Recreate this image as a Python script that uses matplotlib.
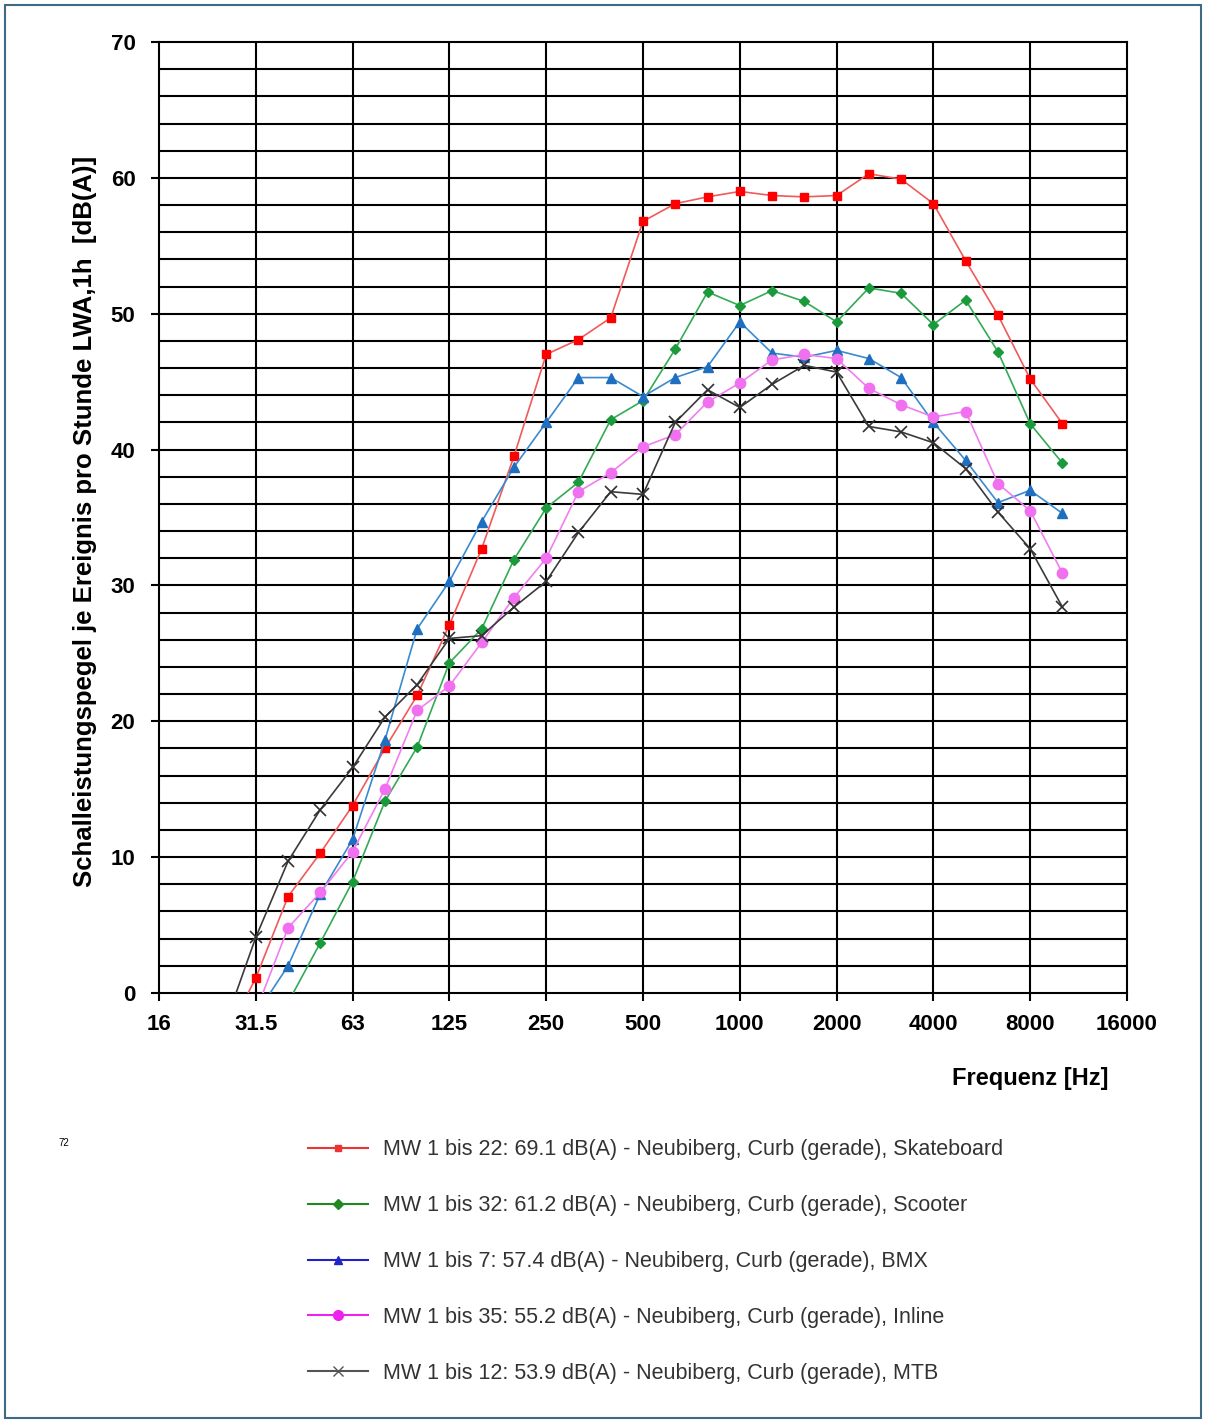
import numpy as np
import matplotlib
matplotlib.use("Agg")
from matplotlib import pyplot as plt
from matplotlib.lines import Line2D
from matplotlib.patches import Rectangle

plt.rcParams['font.family'] = ['Liberation Sans Narrow', 'Liberation Sans', 'DejaVu Sans']

# Terzband-Mittenfrequenzen [Hz] (nominal)
freq = [25, 31.5, 40, 50, 63, 80, 100, 125, 160, 200, 250, 315, 400, 500, 630,
        800, 1000, 1250, 1600, 2000, 2500, 3150, 4000, 5000, 6300, 8000, 10000]

skateboard = [-3.5, 1.1, 7.1, 10.3, 13.8, 18.0, 21.9, 27.1, 32.7, 39.5, 47.0, 48.1, 49.7, 56.8, 58.1,
              58.6, 59.0, 58.7, 58.6, 58.7, 60.3, 59.9, 58.1, 53.9, 49.9, 45.2, 41.9]
scooter = [-8.0, -4.0, -0.7, 3.7, 8.2, 14.1, 18.1, 24.3, 26.8, 31.9, 35.7, 37.6, 42.2, 43.6, 47.4,
           51.6, 50.6, 51.7, 50.9, 49.4, 51.9, 51.5, 49.2, 51.0, 47.2, 41.9, 39.0]
bmx = [-6.0, -1.6, 2.0, 7.3, 11.3, 18.6, 26.8, 30.3, 34.7, 38.7, 42.0, 45.3, 45.3, 43.9, 45.3,
       46.1, 49.4, 47.1, 46.8, 47.3, 46.7, 45.3, 42.0, 39.2, 36.1, 37.0, 35.3]
inline = [-5.0, -1.35, 4.8, 7.4, 10.4, 15.0, 20.8, 22.6, 25.8, 29.1, 32.0, 36.9, 38.3, 40.2, 41.1,
          43.5, 44.9, 46.6, 47.0, 46.7, 44.5, 43.3, 42.4, 42.8, 37.5, 35.5, 30.9]
mtb = [-2.6, 4.1, 9.7, 13.5, 16.6, 20.3, 22.7, 26.1, 26.3, 28.4, 30.3, 33.9, 36.9, 36.7, 42.0,
       44.4, 43.1, 44.8, 46.2, 45.7, 41.7, 41.3, 40.5, 38.6, 35.4, 32.7, 28.4]

labels = ["MW 1 bis 22: 69.1 dB(A) - Neubiberg, Curb (gerade), Skateboard",
          "MW 1 bis 32: 61.2 dB(A) - Neubiberg, Curb (gerade), Scooter",
          "MW 1 bis 7: 57.4 dB(A) - Neubiberg, Curb (gerade), BMX",
          "MW 1 bis 35: 55.2 dB(A) - Neubiberg, Curb (gerade), Inline",
          "MW 1 bis 12: 53.9 dB(A) - Neubiberg, Curb (gerade), MTB"]

oct_labels = ["16", "31.5", "63", "125", "250", "500", "1000", "2000", "4000", "8000", "16000"]

# nominal -> exakte Terz-/Oktavposition (1000 Hz als Bezug)
i1000 = freq.index(1000)
xpos = [1000 * 2 ** ((i - i1000) / 3) for i in range(len(freq))]
oct_pos = [1000 * 2 ** (k - 6) for k in range(len(oct_labels))]

fig = plt.figure(figsize=(12.06, 14.2), dpi=100)
ax = fig.add_axes([159/1206, 1 - 993/1420, (1127-159)/1206, (993-42)/1420])

# Rahmen um das Bild
fig.patches.append(Rectangle((5/1206, 2/1420), 1196/1206, 1413/1420, transform=fig.transFigure,
                             fill=False, edgecolor="#3d6a85", linewidth=1.5))

ax.set_xscale("log", base=2)
ax.set_xlim(oct_pos[0], oct_pos[-1])
ax.set_ylim(0, 70)

# Raster
for y in range(2, 70, 2):
    ax.axhline(y, color="black", lw=1.5, zorder=1)
for x in oct_pos[1:-1]:
    ax.axvline(x, color="black", lw=1.5, zorder=1)
for s in ax.spines.values():
    s.set_linewidth(1.5)

ax.set_xticks(oct_pos)
ax.set_xticklabels(oct_labels, fontsize=16, fontweight="bold")
ax.xaxis.set_minor_locator(matplotlib.ticker.NullLocator())
ax.set_yticks(range(0, 71, 10))
ax.set_yticklabels([str(v) for v in range(0, 71, 10)], fontsize=16, fontweight="bold")
ax.tick_params(axis="both", direction="out", length=6, width=1.5)
ax.tick_params(axis="y", pad=11)
ax.tick_params(axis="x", pad=9)

series = [
    (skateboard, "#f05a5a", "#ff0000", "s", 6),
    (scooter, "#33aa55", "#1a9a3a", "D", 5.5),
    (bmx, "#3a8ad0", "#1f6fc0", "^", 7.5),
    (inline, "#f07ef0", "#f070f0", "o", 7.5),
    (mtb, "#3a3a3a", "#3a3a3a", "x", 9),
]
for vals, lc, mc, m, ms in series:
    ax.plot(xpos, vals, color=lc, lw=1.2, marker=m, markersize=ms,
            markerfacecolor=mc, markeredgecolor=mc if m != "x" else "#303030",
            markeredgewidth=1.0 if m != "x" else 1.2, zorder=3)

fig.text(85/1206, 1 - 521/1420, "Schalleistungspegel je Ereignis pro Stunde LWA,1h  [dB(A)]",
         fontsize=18.5, fontweight="bold", rotation=90, ha="center", va="center")
fig.text(1030/1206, 1 - 1078/1420, "Frequenz [Hz]", fontsize=17, fontweight="bold",
         ha="center", va="center")
fig.text(58/1206, 1 - 1143/1420, "72", fontsize=7, ha="left", va="center")

leg_colors = ["#ee3333", "#228822", "#2222cc", "#ee22ee", "#555555"]
leg_markers = ["s", "D", "^", "o", "x"]
leg_ms = [4, 5, 6, 7, 7]
handles = [Line2D([0], [0], color=c, lw=1.5, marker=m, markersize=s, markerfacecolor=c,
                  markeredgecolor=c) for c, m, s in zip(leg_colors, leg_markers, leg_ms)]
leg = fig.legend(handles, labels, loc="upper left", bbox_to_anchor=(289/1206, 1 - 1120/1420),
                 frameon=False, fontsize=15.5, labelspacing=1.62, handlelength=2.75,
                 handletextpad=0.7)
for t in leg.get_texts():
    t.set_color("#333333")

fig.savefig("out.png", dpi=100)
